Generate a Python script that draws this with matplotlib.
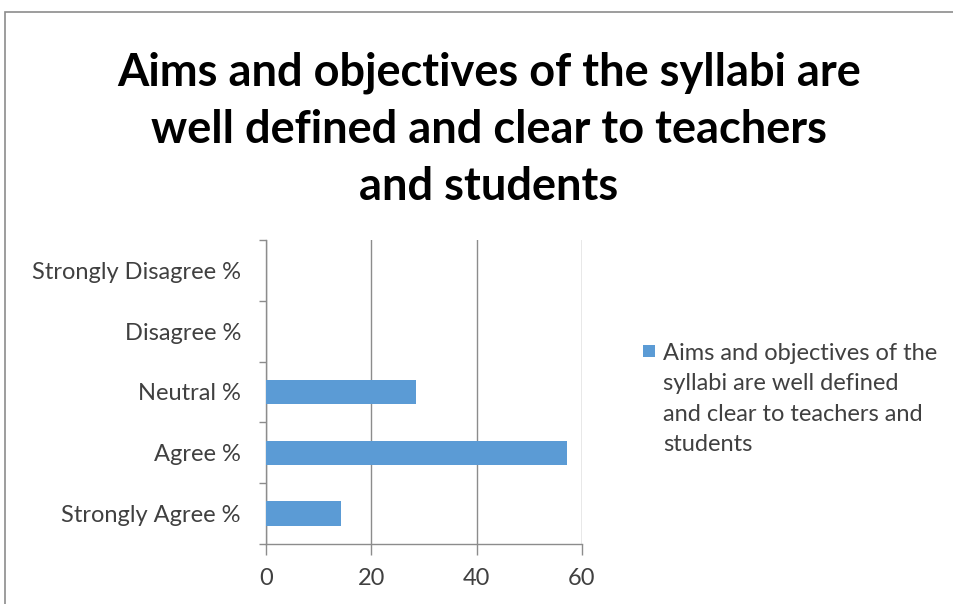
import matplotlib
matplotlib.use("Agg")
import matplotlib.pyplot as plt
from matplotlib.patches import Rectangle

categories = ["Strongly Agree %", "Agree %", "Neutral %", "Disagree %", "Strongly Disagree %"]
values = [14.29, 57.14, 28.57, 0, 0]
xticks = [0, 20, 40, 60]
title = "Aims and objectives of the syllabi are\nwell defined and clear to teachers\nand students"
series_name = "Aims and objectives of the\nsyllabi are well defined\nand clear to teachers and\nstudents"
bar_color = "#5B9BD5"

plt.rcParams['font.family'] = ['Lato', 'DejaVu Sans']

W, H = 954, 604
fig = plt.figure(figsize=(W / 100, H / 100), dpi=100)
fig.patch.set_facecolor("white")
# outer chart border
fig.patches.append(Rectangle((5 / W, -0.1), 1.2, 1 - 12 / H + 0.1, transform=fig.transFigure,
                             fill=False, edgecolor="#8c8c8c", linewidth=1.2))

ax = fig.add_axes([266 / W, 1 - 544 / H, (582 - 266) / W, (544 - 240) / H])
ypos = list(range(len(categories)))
bars = ax.barh(ypos, values, height=0.4, color=bar_color, label=series_name, zorder=3)
ax.set_xlim(0, 60)
ax.set_ylim(-0.5, len(categories) - 0.5)
ax.set_xticks(xticks)
ax.set_xticklabels([str(t) for t in xticks])
ax.set_yticks(ypos)
ax.set_yticklabels(categories)
ax.set_yticks([i - 0.5 for i in range(len(categories) + 1)], minor=True)
ax.tick_params(axis='y', which='major', length=0, pad=18, labelsize=17, labelcolor="#404040")
ax.tick_params(axis='y', which='minor', length=5, color="#8c8c8c", width=1)
ax.tick_params(axis='x', which='major', length=8, color="#8c8c8c", width=1, pad=9,
               labelsize=17, labelcolor="#404040")
ax.grid(axis='x', color="#8c8c8c", linewidth=1, zorder=0)
for s in ["top", "right"]:
    ax.spines[s].set_visible(False)
for s in ["left", "bottom"]:
    ax.spines[s].set_color("#8c8c8c")
    ax.spines[s].set_linewidth(1)

fig.text(489 / W, 1 - 51 / H, title, ha="center", va="top", fontsize=32.5, fontweight="bold",
         color="black", linespacing=1.45)

# legend (manual, so that the key aligns with the first line of text)
fig.patches.append(Rectangle((643 / W, 1 - 357 / H), 12 / W, 12 / H, transform=fig.transFigure,
                             facecolor=bar_color, edgecolor="none"))
fig.text(663 / W, 1 - 343 / H, series_name, ha="left", va="top", fontsize=17,
         color="#404040", linespacing=1.55)

fig.savefig("out.png", dpi=100, facecolor="white")
